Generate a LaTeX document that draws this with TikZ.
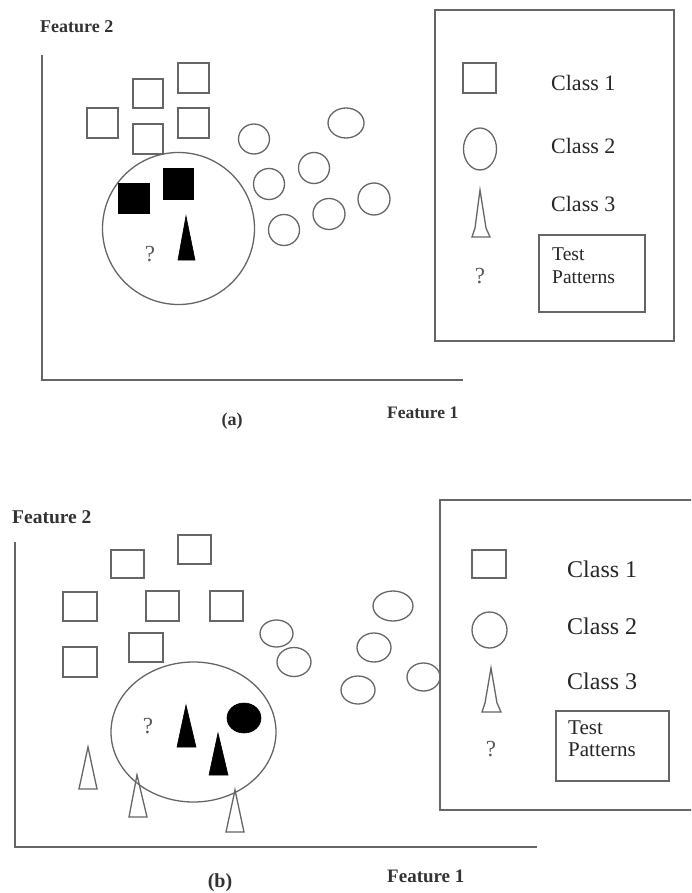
\documentclass[tikz,border=0pt]{standalone}
\usepackage{fontspec}
\setmainfont{Liberation Serif}
\begin{document}
\begin{tikzpicture}[x=1pt,y=-1pt,
  shp/.style={draw=black!60,line width=1.3pt},
  solid shape/.style={fill=black,draw=black,line width=0.6pt},
  lblA/.style={font=\fontsize{22}{24}\selectfont,text=black!85,inner sep=0pt,anchor=base west},
  lblB/.style={font=\fontsize{24}{26}\selectfont,text=black!85,inner sep=0pt,anchor=base west},
  axlbl/.style={font=\bfseries\fontsize{18}{21}\selectfont,text=black!80,inner sep=0pt,anchor=base west},
  qmark/.style={font=\fontsize{23}{26}\selectfont,text=black!65,inner sep=0pt,anchor=base},
  testA/.style={font=\fontsize{19.5}{23}\selectfont,text=black!85,inner sep=0pt,anchor=base west},
  testB/.style={font=\fontsize{21}{22}\selectfont,text=black!85,inner sep=0pt,anchor=base west}]
\useasboundingbox (0,0) rectangle (691,893);
\fill[white] (0,0) rectangle (691,893);
\clip (0,0) rectangle (691,893);

% ================= (a) =================
\coordinate (a-origin) at (42,380);
\coordinate (a-ytop) at (42,55);
\coordinate (a-xend) at (463,380);
\draw[shp] (a-ytop) -- (a-origin) -- (a-xend);
\node[axlbl] (a-f2) at (40,33) {Feature 2};
\node[axlbl,font=\bfseries\fontsize{17.5}{21}\selectfont] (a-f1) at (387,418) {Feature 1};
\node[axlbl,anchor=base] (a-cap) at (232,425) {(a)};

% class 1 squares
\draw[shp] (87,108) rectangle (118,138);
\draw[shp] (133,79) rectangle (163,108);
\draw[shp] (178,63) rectangle (209,93);
\draw[shp] (178,108) rectangle (209,138);
\draw[shp] (133,124) rectangle (163,154);
% class 2 circles
\draw[shp] (254,139) ellipse [x radius=15.5pt, y radius=15pt];
\draw[shp] (269,184) ellipse [x radius=15.5pt, y radius=15.5pt];
\draw[shp] (314,168) ellipse [x radius=15.5pt, y radius=15.5pt];
\draw[shp] (346,123) ellipse [x radius=18pt, y radius=15pt];
\draw[shp] (284,230) ellipse [x radius=15.5pt, y radius=15.5pt];
\draw[shp] (329,214) ellipse [x radius=16pt, y radius=15.5pt];
\draw[shp] (374,199) ellipse [x radius=16pt, y radius=16pt];
% neighbourhood circle
\draw[shp] (178.5,228.5) circle [radius=76pt];
% neighbours
\fill[solid shape] (118,183) rectangle (149,213);
\fill[solid shape] (163,168) rectangle (193,199);
\fill[solid shape] (186,216) -- (195,260) -- (178,260) -- cycle;
\node[qmark] (a-q) at (150,261) {?};

% legend (a)
\draw[shp] (435,10) rectangle (674,341);
\draw[shp] (463,63) rectangle (496,93);
\node[lblA] (a-c1) at (551,91) {Class 1};
\draw[shp] (480,149) ellipse [x radius=16.5pt, y radius=21pt];
\node[lblA] (a-c2) at (551,154) {Class 2};
\draw[shp] (480,190) -- (486,228) -- (490,237) -- (472,237) -- (475,228) -- cycle;
\node[lblA] (a-c3) at (551,212) {Class 3};
\node[qmark] (a-lq) at (480,283) {?};
\draw[shp] (539,235) rectangle (645,312);
\node[testA] (a-tp1) at (552,260) {Test};
\node[testA] (a-tp2) at (552,283) {Patterns};

% ================= (b) =================
\coordinate (b-origin) at (15,847);
\coordinate (b-ytop) at (15,542);
\coordinate (b-xend) at (537,847);
\draw[shp] (b-ytop) -- (b-origin) -- (b-xend);
\node[axlbl,font=\bfseries\fontsize{19.5}{22}\selectfont] (b-f2) at (12,523) {Feature 2};
\node[axlbl,font=\bfseries\fontsize{19}{22}\selectfont] (b-f1) at (387,882) {Feature 1};
\node[axlbl,anchor=base,font=\bfseries\fontsize{20}{22}\selectfont] (b-cap) at (220,887) {(b)};

% class 1 squares
\draw[shp] (111,550) rectangle (144,578);
\draw[shp] (178,535) rectangle (211,564);
\draw[shp] (63,592) rectangle (97,621);
\draw[shp] (146,591) rectangle (179,621);
\draw[shp] (210,591) rectangle (243,621);
\draw[shp] (63,647) rectangle (97,677);
\draw[shp] (129,633) rectangle (163,662);
% class 2 circles
\draw[shp] (276.5,633.5) ellipse [x radius=16.5pt, y radius=13.5pt];
\draw[shp] (294,662) ellipse [x radius=17pt, y radius=14.5pt];
\draw[shp] (393,606) ellipse [x radius=20pt, y radius=15pt];
\draw[shp] (374,647.5) ellipse [x radius=17pt, y radius=14.5pt];
\draw[shp] (358,690) ellipse [x radius=17pt, y radius=14pt];
\draw[shp] (423.5,677) ellipse [x radius=16.5pt, y radius=14pt];
% class 3 triangles
\draw[shp] (88,747) -- (97,789) -- (79,789) -- cycle;
\draw[shp] (137,775) -- (147,817) -- (129,817) -- cycle;
\draw[shp] (235,790) -- (244,832) -- (226,832) -- cycle;
% neighbourhood ellipse
\draw[shp] (193.5,732) ellipse [x radius=82.5pt, y radius=70pt];
% neighbours
\fill[solid shape] (186,705) -- (196,747) -- (177,747) -- cycle;
\fill[solid shape] (218,733) -- (228,775) -- (209,775) -- cycle;
\fill[solid shape] (244,718) ellipse [x radius=17pt, y radius=15pt];
\node[qmark] (b-q) at (148,733) {?};

% legend (b)
\draw[shp] (695,500) -- (440,500) -- (440,810) -- (695,810);
\draw[shp] (472,550) rectangle (506,578);
\node[lblB] (b-c1) at (567,577) {Class 1};
\draw[shp] (489.5,630) ellipse [x radius=17.5pt, y radius=18pt];
\node[lblB] (b-c2) at (567,634) {Class 2};
\draw[shp] (491,668) -- (497,703) -- (501,712) -- (482,712) -- (485,703) -- cycle;
\node[lblB] (b-c3) at (567,689) {Class 3};
\node[qmark] (b-lq) at (491,756) {?};
\draw[shp] (556,711) rectangle (669,781);
\node[testB] (b-tp1) at (568,734) {Test};
\node[testB] (b-tp2) at (568,756) {Patterns};
\end{tikzpicture}
\end{document}
